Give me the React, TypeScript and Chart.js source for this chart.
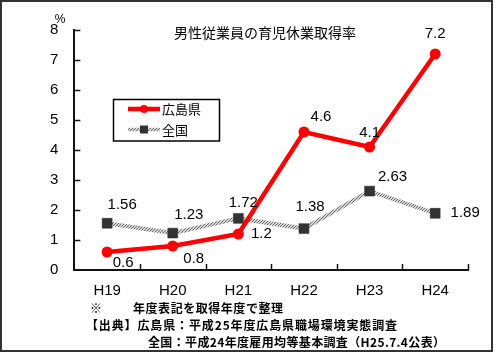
import { useEffect, useRef } from "react";
import { Chart, registerables } from "chart.js";

Chart.register(...registerables);

const categories = ["H19", "H20", "H21", "H22", "H23", "H24"];
const hiroshimaValues = [0.6, 0.8, 1.2, 4.6, 4.1, 7.2];
const nationalValues = [1.56, 1.23, 1.72, 1.38, 2.63, 1.89];
const seriesNames = ["広島県", "全国"];
const yMin = 0;
const yMax = 8;
const yStep = 1;
const unitLabel = "%";
const chartTitle = "男性従業員の育児休業取得率";
const noteMark = "※";
const noteLine1 = "年度表記を取得年度で整理";
const noteLine2 = "【出典】広島県：平成25年度広島県職場環境実態調査";
const noteLine3 = "全国：平成24年度雇用均等基本調査（H25.7.4公表）";

// label placement offsets (layout only)
const hiroshimaLabelOffsets = [[16, 11], [21, 13], [23, 0], [17, -15], [0, -14], [0, -20]];
const nationalLabelOffsets = [[15, -18], [16, -18], [5, -16], [6, -22], [23, -14], [30, 0]];

const NUM_FONT = "'Liberation Sans', Arial, sans-serif";
const JP_FONT = "'Noto Sans CJK JP', sans-serif";

function makeRopePattern(): CanvasPattern | string {
  const c = document.createElement("canvas");
  c.width = 3;
  c.height = 3;
  const g = c.getContext("2d");
  if (!g) return "#999";
  g.fillStyle = "#d8d8d8";
  g.fillRect(0, 0, 3, 3);
  g.fillStyle = "#6a6a6a";
  for (let i = 0; i < 3; i++) g.fillRect(i, 2 - i, 1, 1);
  const p = g.createPattern(c, "repeat");
  return p || "#999";
}

function fitText(ctx: CanvasRenderingContext2D, text: string, x: number, y: number, width: number) {
  (ctx as any).letterSpacing = "0px";
  const w = ctx.measureText(text).width;
  const n = Array.from(text).length;
  const ls = n > 1 ? (width - w) / (n - 1) : 0;
  (ctx as any).letterSpacing = ls + "px";
  ctx.textAlign = "left";
  ctx.fillText(text, x, y);
  (ctx as any).letterSpacing = "0px";
}

export default function App() {
  const ref = useRef<HTMLCanvasElement | null>(null);

  useEffect(() => {
    const canvas = ref.current;
    if (!canvas) return;
    const rope = makeRopePattern();

    const overlay = {
      id: "overlay",
      beforeDraw(chart: any) {
        const ctx = chart.ctx;
        ctx.save();
        ctx.fillStyle = "#fff";
        ctx.fillRect(0, 0, chart.width, chart.height);
        ctx.restore();
      },
      afterDraw(chart: any) {
        const ctx: CanvasRenderingContext2D = chart.ctx;
        const xs = chart.scales.x;
        const ys = chart.scales.y;
        const area = chart.chartArea;
        ctx.save();
        // inward ticks
        ctx.strokeStyle = "#111";
        ctx.lineWidth = 1.5;
        for (let v = yMin + yStep; v <= yMax; v += yStep) {
          const y = Math.round(ys.getPixelForValue(v)) + 0.5;
          ctx.beginPath();
          ctx.moveTo(area.left, y);
          ctx.lineTo(area.left + 6, y);
          ctx.stroke();
        }
        const half = (xs.getPixelForValue(1) - xs.getPixelForValue(0)) / 2;
        for (let i = 0; i < categories.length; i++) {
          const x = Math.round(xs.getPixelForValue(i) + half) + 0.5;
          ctx.beginPath();
          ctx.moveTo(x, area.bottom);
          ctx.lineTo(x, area.bottom - 6);
          ctx.stroke();
        }
        // data labels
        ctx.fillStyle = "#000";
        ctx.font = `15px ${NUM_FONT}`;
        ctx.textAlign = "center";
        ctx.textBaseline = "middle";
        const drawLabels = (values: number[], offs: number[][]) => {
          values.forEach((v, i) => {
            const x = xs.getPixelForValue(i) + offs[i][0];
            const y = ys.getPixelForValue(v) + offs[i][1];
            ctx.fillText(String(v), x, y);
          });
        };
        drawLabels(hiroshimaValues, hiroshimaLabelOffsets);
        drawLabels(nationalValues, nationalLabelOffsets);
        // unit
        ctx.font = `12px ${NUM_FONT}`;
        ctx.fillText(unitLabel, 60, 20);
        // title
        ctx.font = `14px ${JP_FONT}`;
        ctx.fillText(chartTitle, 265, 33);
        // legend
        ctx.lineWidth = 1.5;
        ctx.strokeStyle = "#000";
        ctx.strokeRect(113.5, 99.5, 106, 41.5);
        const ds0 = chart.data.datasets[0];
        const ds1 = chart.data.datasets[1];
        ctx.lineWidth = 4.5;
        ctx.strokeStyle = ds0.borderColor;
        ctx.beginPath();
        ctx.moveTo(128, 109);
        ctx.lineTo(160, 109);
        ctx.stroke();
        ctx.fillStyle = ds0.pointBackgroundColor;
        ctx.beginPath();
        ctx.arc(144, 109, 4, 0, Math.PI * 2);
        ctx.fill();
        ctx.lineWidth = 3.5;
        ctx.strokeStyle = ds1.borderColor;
        ctx.beginPath();
        ctx.moveTo(128, 129.5);
        ctx.lineTo(160, 129.5);
        ctx.stroke();
        ctx.fillStyle = ds1.pointBackgroundColor;
        ctx.fillRect(140, 125.5, 8, 8);
        ctx.fillStyle = "#000";
        ctx.font = `13px ${JP_FONT}`;
        ctx.textAlign = "left";
        ctx.fillText(seriesNames[0], 162, 109);
        ctx.fillText(seriesNames[1], 162, 130);
        // notes
        ctx.font = `bold 12px ${JP_FONT}`;
        ctx.fillText(noteMark, 90, 308);
        fitText(ctx, noteLine1, 133, 308, 150);
        fitText(ctx, noteLine2, 86, 325, 311);
        fitText(ctx, noteLine3, 148, 342, 297);
        // frame
        ctx.lineWidth = 2;
        ctx.strokeStyle = "#333";
        ctx.strokeRect(1, 1, 491, 350);
        ctx.restore();
      },
    };

    const chart = new Chart(canvas, {
      type: "line",
      data: {
        labels: categories,
        datasets: [
          {
            label: seriesNames[0],
            data: hiroshimaValues,
            borderColor: "#ff0000",
            backgroundColor: "#ff0000",
            pointBackgroundColor: "#ff0000",
            pointBorderColor: "#ff0000",
            borderWidth: 4.5,
            pointRadius: 5.5,
            pointBorderWidth: 0,
            pointStyle: "circle",
            tension: 0,
          },
          {
            label: seriesNames[1],
            data: nationalValues,
            borderColor: rope as any,
            backgroundColor: "#333",
            pointBackgroundColor: "#333333",
            pointBorderColor: "#222",
            borderWidth: 4,
            pointRadius: 7,
            pointBorderWidth: 0.5,
            pointStyle: "rect",
            tension: 0,
          },
        ],
      },
      options: {
        responsive: false,
        animation: false,
        layout: { padding: { left: 34, top: 30, right: 32, bottom: 47 } },
        plugins: {
          legend: { display: false },
          tooltip: { enabled: false },
          title: { display: false },
        },
        scales: {
          x: {
            type: "category",
            offset: true,
            grid: { display: false, drawTicks: false },
            border: { display: true, color: "#111", width: 2 },
            ticks: {
              color: "#000",
              font: { family: NUM_FONT, size: 15 },
              padding: 12,
              maxRotation: 0,
            },
          },
          y: {
            min: yMin,
            max: yMax,
            grid: { display: false, drawTicks: false },
            border: { display: true, color: "#111", width: 2 },
            ticks: {
              stepSize: yStep,
              color: "#000",
              font: { family: NUM_FONT, size: 15 },
              padding: 16,
            },
          },
        },
      },
      plugins: [overlay],
    });
    return () => chart.destroy();
  }, []);

  return (
    <div style={{ position: "fixed", left: 0, top: 0, width: 500, height: 359, background: "#fff" }}>
      <canvas ref={ref} width={500} height={359} style={{ display: "block", width: 500, height: 359 }} />
    </div>
  );
}
